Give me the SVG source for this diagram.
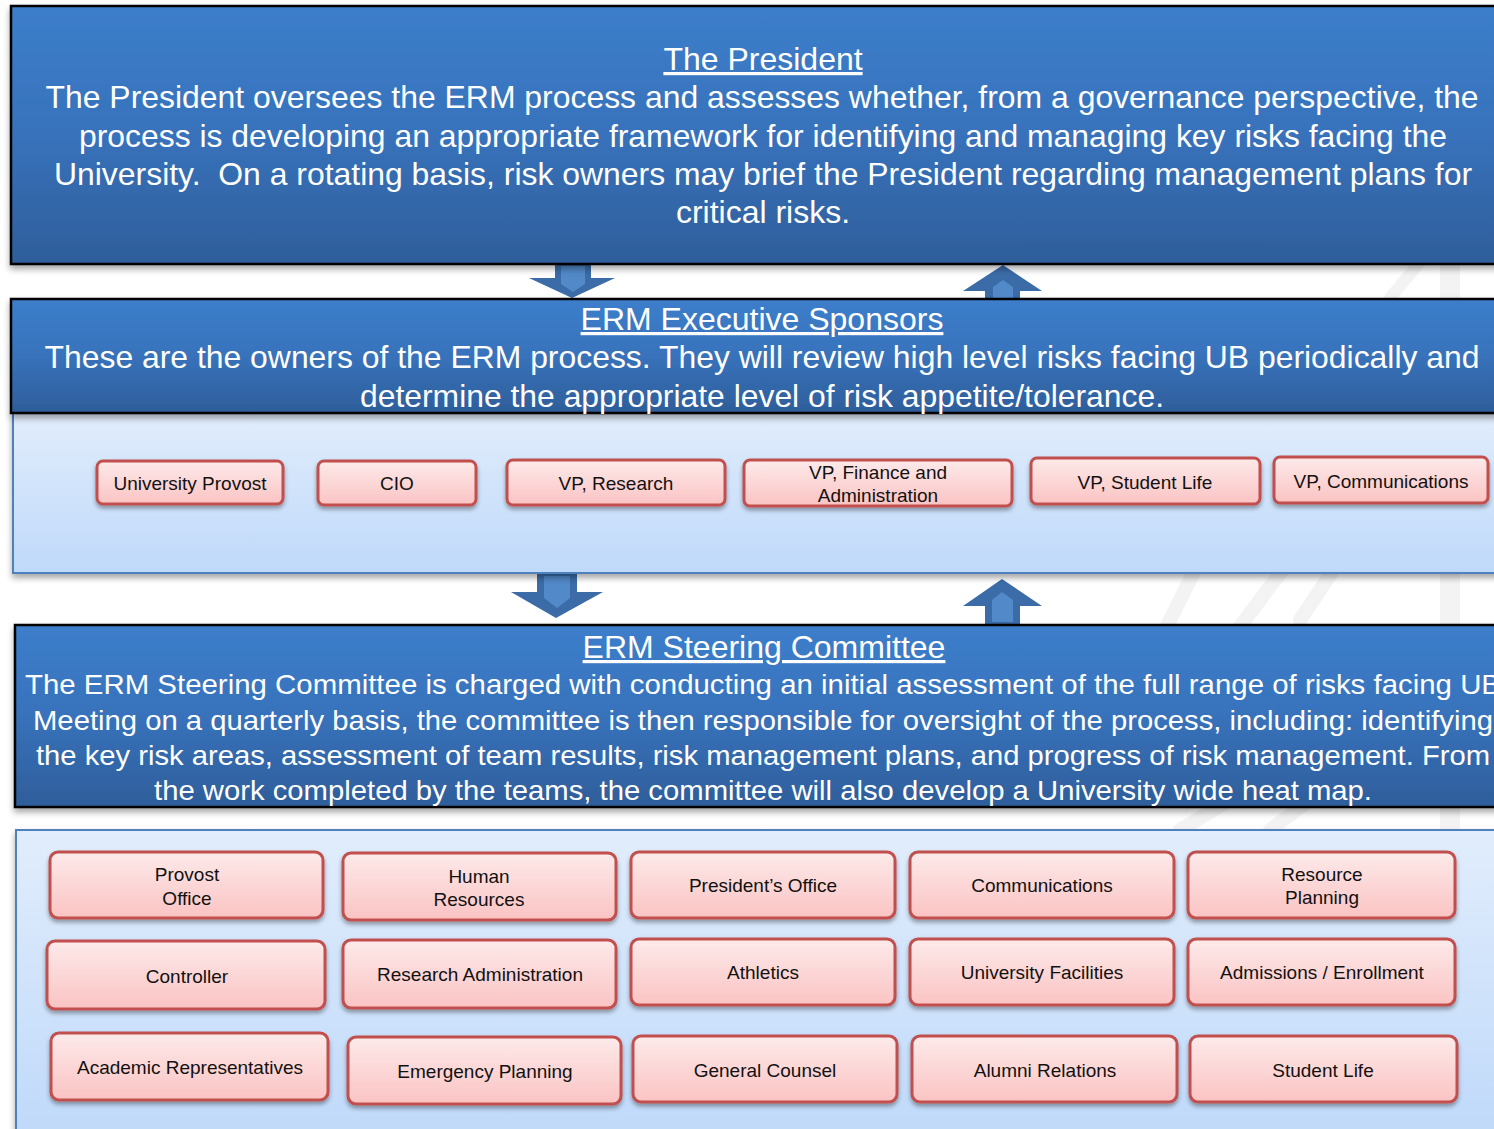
<svg xmlns="http://www.w3.org/2000/svg" width="1494" height="1129" viewBox="0 0 1494 1129">
  <defs>
    <linearGradient id="gHead" x1="0" y1="0" x2="0" y2="1">
      <stop offset="0" stop-color="#3c7ecb"/>
      <stop offset="0.5" stop-color="#3872bb"/>
      <stop offset="1" stop-color="#2e5e9a"/>
    </linearGradient>
    <linearGradient id="gPanel" x1="0" y1="0" x2="0" y2="1">
      <stop offset="0" stop-color="#e1edfc"/>
      <stop offset="1" stop-color="#bfd9fa"/>
    </linearGradient>
    <linearGradient id="gBox" x1="0" y1="0" x2="0" y2="1">
      <stop offset="0" stop-color="#fdeaea"/>
      <stop offset="1" stop-color="#fbc3c3"/>
    </linearGradient>
    <filter id="shadow" x="-5%" y="-20%" width="110%" height="150%">
      <feDropShadow dx="0" dy="4" stdDeviation="3" flood-color="#000" flood-opacity="0.35"/>
    </filter>
    <filter id="shadowSm" x="-10%" y="-20%" width="120%" height="150%">
      <feDropShadow dx="0" dy="3" stdDeviation="2" flood-color="#000" flood-opacity="0.35"/>
    </filter>
  </defs>
  <style>
    .head { fill: url(#gHead); stroke: #000; stroke-width: 2.5; filter: url(#shadow); }
    .panel { fill: url(#gPanel); stroke: #4f81bd; stroke-width: 2; filter: url(#shadow); }
    .box { fill: url(#gBox); stroke: #c0504d; stroke-width: 3; filter: url(#shadowSm); }
    .title { font-family: "Liberation Sans", Arial, sans-serif; font-size: 32px; fill: #fff; text-anchor: middle; text-decoration: underline; }
    .body { font-family: "Liberation Sans", Arial, sans-serif; font-size: 32px; fill: #fff; text-anchor: middle; }
    .body2 { font-family: "Liberation Sans", Arial, sans-serif; font-size: 28px; fill: #fff; text-anchor: middle; }
    .lbl { font-family: "Liberation Sans", Arial, sans-serif; font-size: 19px; fill: #111; text-anchor: middle; }
    .arrOut { fill: #3b6ca8; }
    .arrIn { fill: #5289c9; }
    .wm { fill: none; stroke: #f3f3f3; stroke-linecap: round; }
  </style>

  <rect width="1494" height="1129" fill="#fff"/>

  <!-- faint background emblem -->
  <g id="emblem" class="wm">
    <line x1="1450" y1="265" x2="1450" y2="1129" stroke-width="20"/>
    <path d="M1160 640 L1200 560 M1230 640 L1290 560 M1300 620 L1340 560" stroke-width="14"/>
    <path d="M1180 830 L1230 800 M1270 830 L1310 800" stroke-width="14"/>
    <path d="M1390 298 L1420 262" stroke-width="12"/>
  </g>

  <!-- connectors between tiers -->
  <g id="connectors">
    <g id="arrow-down-1">
      <polygon class="arrOut" points="555,264 591,264 591,278 615,278 572,298 529,278 555,278"/>
      <polygon class="arrIn" points="561,266 585,266 585,284 573,292 561,284"/>
    </g>
    <g id="arrow-up-1">
      <polygon class="arrOut" points="1003,265 1042,291 1020,291 1020,299 985,299 985,291 963,291"/>
      <polygon class="arrIn" points="1003,280 1013,287 1013,299 993,299 993,287"/>
    </g>
    <g id="arrow-down-2">
      <polygon class="arrOut" points="537,574 577,574 577,592 603,592 556,618 511,592 537,592"/>
      <polygon class="arrIn" points="544,576 570,576 570,598 557,608 544,598"/>
    </g>
    <g id="arrow-up-2">
      <polygon class="arrOut" points="1002,579 1042,606 1020,606 1020,626 985,626 985,606 963,606"/>
      <polygon class="arrIn" points="1002,592 1013,600 1013,622 992,622 992,600"/>
    </g>
  </g>

  <!-- President -->
  <g id="president">
    <rect class="head" x="11" y="6" width="1490" height="258"/>
    <text class="title" x="763" y="70">The President</text>
    <text class="body" x="762" y="108" textLength="1433" lengthAdjust="spacingAndGlyphs">The President oversees the ERM process and assesses whether, from a governance perspective, the</text>
    <text class="body" x="763" y="147" textLength="1368" lengthAdjust="spacingAndGlyphs">process is developing an appropriate framework for identifying and managing key risks facing the</text>
    <text class="body" x="763" y="185" textLength="1418" lengthAdjust="spacingAndGlyphs" xml:space="preserve">University.  On a rotating basis, risk owners may brief the President regarding management plans for</text>
    <text class="body" x="763" y="223">critical risks.</text>
  </g>

  <!-- ERM Executive Sponsors -->
  <g id="sponsors">
    <rect class="panel" x="13" y="413" width="1488" height="160"/>
    <rect class="head" x="11" y="299" width="1490" height="114"/>
    <text class="title" x="762" y="330">ERM Executive Sponsors</text>
    <text class="body" x="762" y="368" textLength="1435" lengthAdjust="spacingAndGlyphs">These are the owners of the ERM process. They will review high level risks facing UB periodically and</text>
    <text class="body" x="762" y="407" textLength="804" lengthAdjust="spacingAndGlyphs">determine the appropriate level of risk appetite/tolerance.</text>
  </g>

  <g id="sp-provost"><rect class="box" x="97" y="461" width="186" height="43" rx="6"/><text class="lbl" x="190" y="490">University Provost</text></g>
  <g id="sp-cio"><rect class="box" x="318" y="461" width="158" height="44" rx="6"/><text class="lbl" x="397" y="490">CIO</text></g>
  <g id="sp-research"><rect class="box" x="507" y="460" width="218" height="45" rx="6"/><text class="lbl" x="616" y="490">VP, Research</text></g>
  <g id="sp-finance"><rect class="box" x="744" y="460" width="268" height="46" rx="6"/><text class="lbl" x="878" y="479">VP, Finance and</text><text class="lbl" x="878" y="502">Administration</text></g>
  <g id="sp-studentlife"><rect class="box" x="1031" y="458" width="229" height="46" rx="6"/><text class="lbl" x="1145" y="489">VP, Student Life</text></g>
  <g id="sp-comms"><rect class="box" x="1274" y="457" width="214" height="46" rx="6"/><text class="lbl" x="1381" y="488">VP, Communications</text></g>

  <!-- ERM Steering Committee -->
  <g id="steering">
    <rect class="panel" x="16" y="830" width="1485" height="310"/>
    <rect class="head" x="15" y="625" width="1486" height="182"/>
    <text class="title" x="764" y="658">ERM Steering Committee</text>
    <text class="body2" x="763" y="694" textLength="1476" lengthAdjust="spacingAndGlyphs">The ERM Steering Committee is charged with conducting an initial assessment of the full range of risks facing UB</text>
    <text class="body2" x="763" y="730" textLength="1460" lengthAdjust="spacingAndGlyphs">Meeting on a quarterly basis, the committee is then responsible for oversight of the process, including: identifying</text>
    <text class="body2" x="763" y="765" textLength="1454" lengthAdjust="spacingAndGlyphs">the key risk areas, assessment of team results, risk management plans, and progress of risk management. From</text>
    <text class="body2" x="763" y="800" textLength="1218" lengthAdjust="spacingAndGlyphs">the work completed by the teams, the committee will also develop a University wide heat map.</text>
  </g>

  <!-- committee teams: row 1 -->
  <g id="t-provost-office"><rect class="box" x="50" y="852" width="273" height="66" rx="8"/><text class="lbl" x="187" y="881">Provost</text><text class="lbl" x="187" y="905">Office</text></g>
  <g id="t-hr"><rect class="box" x="343" y="853" width="273" height="67" rx="8"/><text class="lbl" x="479" y="883">Human</text><text class="lbl" x="479" y="906">Resources</text></g>
  <g id="t-presidents-office"><rect class="box" x="631" y="852" width="264" height="66" rx="8"/><text class="lbl" x="763" y="892">President’s Office</text></g>
  <g id="t-communications"><rect class="box" x="910" y="852" width="264" height="66" rx="8"/><text class="lbl" x="1042" y="892">Communications</text></g>
  <g id="t-resource-planning"><rect class="box" x="1188" y="852" width="267" height="66" rx="8"/><text class="lbl" x="1322" y="881">Resource</text><text class="lbl" x="1322" y="904">Planning</text></g>

  <!-- committee teams: row 2 -->
  <g id="t-controller"><rect class="box" x="47" y="941" width="278" height="68" rx="8"/><text class="lbl" x="187" y="983">Controller</text></g>
  <g id="t-research-admin"><rect class="box" x="343" y="940" width="273" height="68" rx="8"/><text class="lbl" x="480" y="981">Research Administration</text></g>
  <g id="t-athletics"><rect class="box" x="631" y="939" width="264" height="66" rx="8"/><text class="lbl" x="763" y="979">Athletics</text></g>
  <g id="t-facilities"><rect class="box" x="910" y="939" width="264" height="66" rx="8"/><text class="lbl" x="1042" y="979">University Facilities</text></g>
  <g id="t-admissions"><rect class="box" x="1188" y="939" width="267" height="66" rx="8"/><text class="lbl" x="1322" y="979">Admissions / Enrollment</text></g>

  <!-- committee teams: row 3 -->
  <g id="t-academic"><rect class="box" x="51" y="1033" width="277" height="67" rx="8"/><text class="lbl" x="190" y="1074">Academic Representatives</text></g>
  <g id="t-emergency"><rect class="box" x="348" y="1037" width="273" height="67" rx="8"/><text class="lbl" x="485" y="1078">Emergency Planning</text></g>
  <g id="t-counsel"><rect class="box" x="633" y="1036" width="264" height="66" rx="8"/><text class="lbl" x="765" y="1077">General Counsel</text></g>
  <g id="t-alumni"><rect class="box" x="912" y="1036" width="265" height="66" rx="8"/><text class="lbl" x="1045" y="1077">Alumni Relations</text></g>
  <g id="t-student-life"><rect class="box" x="1190" y="1036" width="267" height="66" rx="8"/><text class="lbl" x="1323" y="1077">Student Life</text></g>
</svg>
